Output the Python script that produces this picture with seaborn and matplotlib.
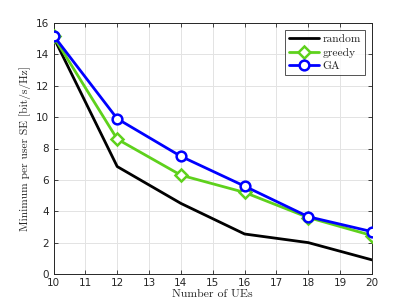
import matplotlib
matplotlib.use("Agg")
import matplotlib.pyplot as plt
import seaborn as sns
import pandas as pd
import numpy as np

ues = [10, 12, 14, 16, 18, 20]
random_se = [15.1, 6.85, 4.5, 2.55, 2.0, 0.9]
greedy_se = [15.15, 8.6, 6.3, 5.2, 3.6, 2.45]
ga_se = [15.2, 9.9, 7.5, 5.6, 3.65, 2.7]
series_names = ["random", "greedy", "GA"]

sns.set_theme(style="white")
plt.rcParams['font.family'] = ['DejaVu Sans']
plt.rcParams['axes.unicode_minus'] = False

df = pd.DataFrame({
    "UEs": ues * 3,
    "SE": random_se + greedy_se + ga_se,
    "method": [series_names[0]] * 6 + [series_names[1]] * 6 + [series_names[2]] * 6,
})

fig = plt.figure(figsize=(4.11, 3.08), dpi=100)
ax = fig.add_axes([53.5/411, 1 - 274/308, (372-53.5)/411, (274-23)/308])

colors = {"random": "#000000", "greedy": "#5ed11c", "GA": "#0000ff"}
markers = {"random": "", "greedy": "D", "GA": "o"}
msizes = {"random": 0, "greedy": 6, "GA": 7}

for name in series_names:
    sub = df[df["method"] == name]
    sns.lineplot(data=sub, x="UEs", y="SE", ax=ax, color=colors[name], lw=2,
                 marker=markers[name] if markers[name] else None,
                 markersize=msizes[name], markerfacecolor="white",
                 markeredgecolor=colors[name], markeredgewidth=1.8,
                 label=name, zorder=3)

ax.set_xlim(10, 20)
ax.set_ylim(0, 16)
ax.set_xticks(range(10, 21))
ax.set_yticks(range(0, 17, 2))
ax.grid(True, color="#e3e3e3", lw=0.7)
for s in ax.spines.values():
    s.set_color("#262626")
    s.set_linewidth(0.7)
    s.set_visible(True)
ax.tick_params(direction="in", length=3, width=0.6, colors="#262626",
               labelsize=7.5, top=True, right=True, bottom=True, left=True, pad=3)

ax.set_xlabel("Number of UEs", fontfamily="cmr10", fontsize=8.5, labelpad=1, color="#262626")
ax.set_ylabel("Minimum per user SE [bit/s/Hz]", fontfamily="cmr10", fontsize=8.3, labelpad=4, color="#262626")

leg = ax.legend(loc="upper right", frameon=True, fancybox=False,
                borderpad=0.35, labelspacing=0.3, handlelength=2.6, handletextpad=0.3,
                borderaxespad=0.6, prop={"family": "cmr10", "size": 8.3})
leg.get_frame().set_edgecolor("#262626")
leg.get_frame().set_linewidth(0.7)

fig.savefig("out.png", dpi=100)
